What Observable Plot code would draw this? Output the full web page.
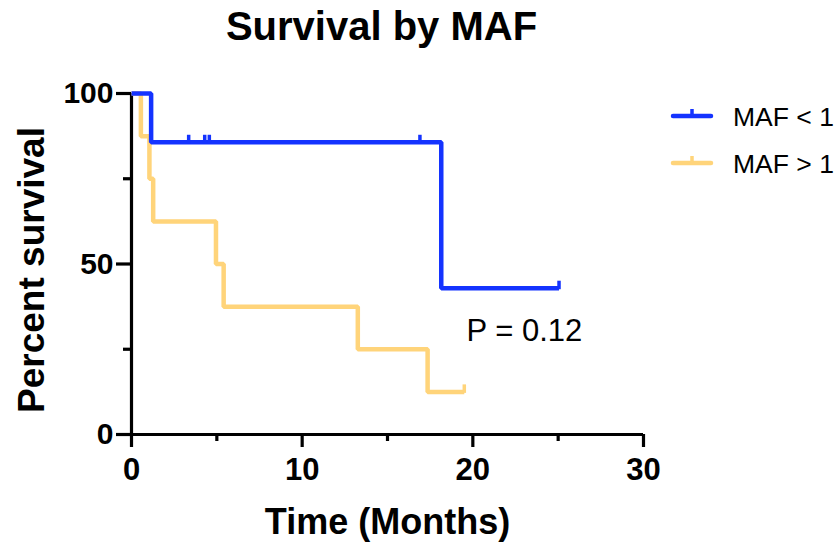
<!DOCTYPE html>
<html><head><meta charset="utf-8">
<script src="https://cdn.jsdelivr.net/npm/d3@7"></script>
<script src="https://cdn.jsdelivr.net/npm/@observablehq/plot@0.6"></script>
<style>
body{margin:0;background:#fff;font-family:"Liberation Sans",Arial,sans-serif}
#wrap{position:relative;width:840px;height:548px;overflow:hidden}
#title{height:56px;line-height:52px;width:763px;text-align:center;font-size:40px;font-weight:bold;color:#000}
#legend{position:absolute;left:0;top:0;pointer-events:none}
</style></head><body>
<div id="wrap"><div id="title">Survival by MAF</div><div id="chart"></div><svg id="legend" width="840" height="548"></svg></div>
<script>
const groups = ["MAF < 1", "MAF > 1"];
const colors = ["#1433ff", "#ffd47a"];
const lowTime = [0, 1.15, 18.15, 25.05];
const lowSurv = [100, 85.7, 42.9, 42.9];
const lowCensorTime = [3.35, 4.29, 4.56, 16.9, 25.05];
const lowCensorSurv = [85.7, 85.7, 85.7, 85.7, 42.9];
const highTime = [0, 0.55, 1.05, 1.27, 4.95, 5.4, 13.26, 17.35, 19.5];
const highSurv = [100, 87.5, 75, 62.5, 50, 37.5, 25, 12.5, 12.5];
const highCensorTime = [19.5];
const highCensorSurv = [12.5];
const xTicks = [0, 10, 20, 30];
const xMinor = [5, 15, 25];
const yTicks = [0, 50, 100];
const yMinor = [25, 75];
const pValue = "P = 0.12";
const xLabel = "Time (Months)";
const yLabel = "Percent survival";

const mk = (t, s) => t.map((d, i) => ({t: d, s: s[i]}));
const low = mk(lowTime, lowSurv), high = mk(highTime, highSurv);
const lowC = mk(lowCensorTime, lowCensorSurv), highC = mk(highCensorTime, highCensorSurv);
const censorTick = {draw(ctx) { ctx.moveTo(0, 1); ctx.lineTo(0, -7.5); }};

const chart = Plot.plot({
  width: 840, height: 492,
  marginLeft: 131, marginRight: 197, marginTop: 37, marginBottom: 114,
  style: {fontFamily: '"Liberation Sans", Arial, sans-serif', background: "white", color: "black", overflow: "visible"},
  x: {domain: [0, 30]},
  y: {domain: [0, 100]},
  marks: [
    Plot.axisX({ticks: xTicks, tickSize: 13, tickPadding: 10, fontSize: 31, fontWeight: "bold", strokeWidth: 3.2, label: null}),
    Plot.axisX({ticks: xMinor, tickSize: 7, text: null, strokeWidth: 3.2, label: null}),
    Plot.axisY({ticks: yTicks, tickSize: 15, tickPadding: 3, fontSize: 30, fontWeight: "bold", strokeWidth: 3.2, label: null}),
    Plot.axisY({ticks: yMinor, tickSize: 8, text: null, strokeWidth: 3.2, label: null}),
    Plot.ruleY([0], {x1: 0, x2: 30, strokeWidth: 3.2, stroke: "black"}),
    Plot.ruleX([0], {y1: 0, y2: 100, strokeWidth: 3.2, stroke: "black"}),
    Plot.line(high, {x: "t", y: "s", curve: "step-after", stroke: colors[1], strokeWidth: 4.5, strokeLinejoin: "miter", strokeLinecap: "butt"}),
    Plot.dot(highC, {x: "t", y: "s", symbol: censorTick, stroke: colors[1], strokeWidth: 3.5, fill: "none", r: 3}),
    Plot.line(low, {x: "t", y: "s", curve: "step-after", stroke: colors[0], strokeWidth: 4.5, strokeLinejoin: "miter", strokeLinecap: "butt"}),
    Plot.dot(lowC, {x: "t", y: "s", symbol: censorTick, stroke: colors[0], strokeWidth: 3.5, fill: "none", r: 3}),
    Plot.text([xLabel], {frameAnchor: "bottom", lineAnchor: "bottom", dy: 99, text: d => d, fontSize: 36, fontWeight: "bold", fill: "black"}),
    Plot.text([yLabel], {frameAnchor: "left", textAnchor: "middle", lineAnchor: "bottom", rotate: -90, dx: -88, dy: 6, text: d => d, fontSize: 37, fontWeight: "bold", fill: "black"}),
    Plot.text([pValue], {frameAnchor: "top-left", lineAnchor: "bottom", textAnchor: "start", dx: 335, dy: 247, text: d => d, fontSize: 31, fill: "black"})
  ]
});
document.getElementById("chart").appendChild(chart);

const leg = d3.select("#legend");
const legY = [116, 163];
groups.forEach((g, i) => {
  const y = legY[i];
  leg.append("line").attr("x1", 673).attr("x2", 711).attr("y1", y).attr("y2", y)
    .attr("stroke", colors[i]).attr("stroke-width", 4.5).attr("stroke-linecap", "round");
  leg.append("line").attr("x1", 692).attr("x2", 692).attr("y1", y).attr("y2", y - 7)
    .attr("stroke", colors[i]).attr("stroke-width", 3.5);
  leg.append("text").attr("x", 733).attr("y", y + 10).attr("font-size", 26.5)
    .attr("font-family", '"Liberation Sans", Arial, sans-serif').attr("fill", "black").text(g);
});
</script>
</body></html>
